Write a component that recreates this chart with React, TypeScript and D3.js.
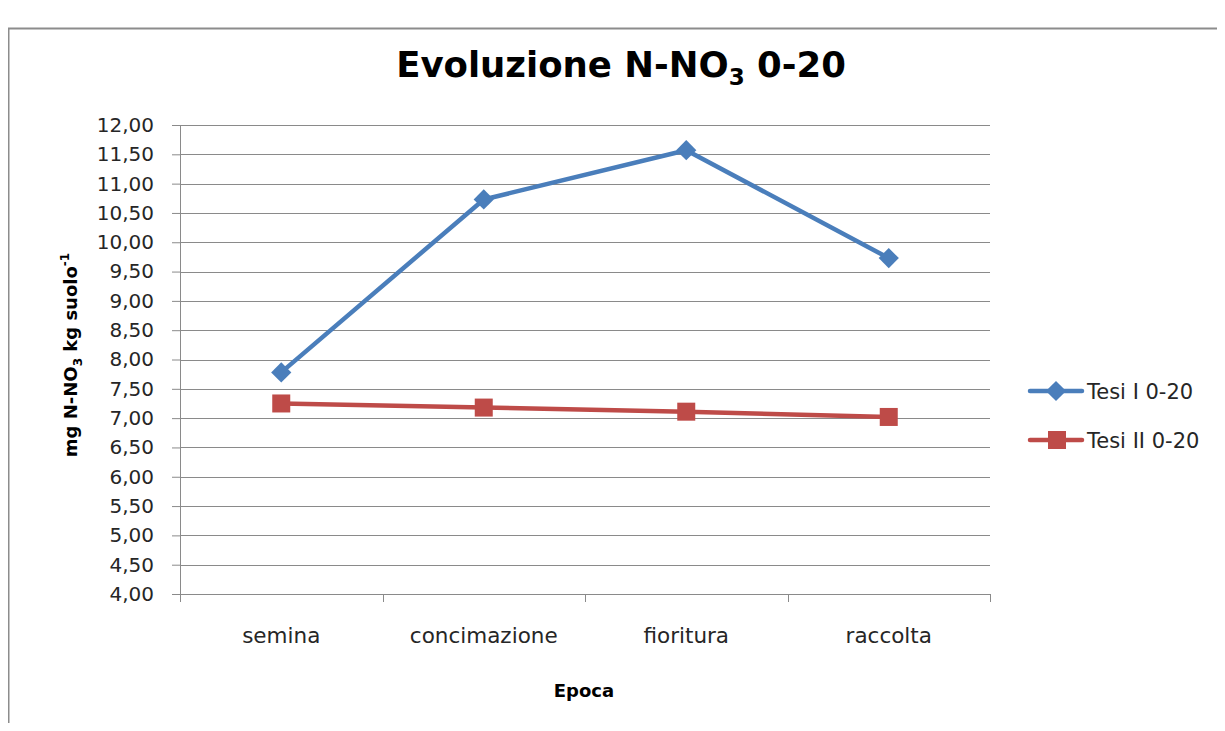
import React, { useEffect, useRef } from 'react';
import * as d3 from 'd3';

const categories = ['semina', 'concimazione', 'fioritura', 'raccolta'];
const tesiI = [7.78, 10.73, 11.57, 9.73];
const tesiII = [7.25, 7.18, 7.11, 7.02];
const yTicks = [4, 4.5, 5, 5.5, 6, 6.5, 7, 7.5, 8, 8.5, 9, 9.5, 10, 10.5, 11, 11.5, 12];
const seriesNames = ['Tesi I 0-20', 'Tesi II 0-20'];

const FONT = '"DejaVu Sans", sans-serif';

export default function App() {
  const ref = useRef<SVGSVGElement>(null);

  useEffect(() => {
    const svg = d3.select(ref.current);
    svg.selectAll('*').remove();

    const width = 1225;
    const height = 731;
    const margin = { top: 125, left: 180, right: 235, bottom: 137 };
    const w = width - margin.left - margin.right;
    const h = height - margin.top - margin.bottom;

    // chart frame (cropped at right and bottom)
    svg.append('rect')
      .attr('x', 8.5).attr('y', 28.5)
      .attr('width', 1240).attr('height', 740)
      .attr('fill', 'white').attr('stroke', '#8c8c8c').attr('stroke-width', 2);

    const x = d3.scaleBand().domain(categories).range([0, w]);
    const y = d3.scaleLinear().domain([4, 12]).range([h, 0]);

    const g = svg.append('g').attr('transform', `translate(${margin.left},${margin.top})`);

    const locale = d3.formatLocale({ decimal: ',', thousands: '.', grouping: [3], currency: ['', ''] });
    const fmt = locale.format('.2f');

    // gridlines
    g.append('g').selectAll('line').data(yTicks).enter().append('line')
      .attr('x1', 0).attr('x2', w)
      .attr('y1', d => Math.round(y(d)) + 0.5).attr('y2', d => Math.round(y(d)) + 0.5)
      .attr('stroke', '#8a8a8a').attr('stroke-width', 1);

    // y axis
    const yAxis = d3.axisLeft(y).tickValues(yTicks).tickSize(8).tickPadding(18).tickFormat(d => fmt(d as number));
    const ya = g.append('g').call(yAxis);
    ya.selectAll('path,line').attr('stroke', '#8a8a8a');
    ya.select('.domain').attr('d', `M0.5,0V${h}`);
    ya.selectAll('text').attr('font-family', FONT).attr('font-size', 20).attr('fill', '#262626');

    // x axis with ticks at band boundaries
    const xa = g.append('g').attr('transform', `translate(0,${h})`);
    xa.append('line').attr('x1', 0).attr('x2', w).attr('y1', 0.5).attr('y2', 0.5).attr('stroke', '#8a8a8a');
    const bounds = categories.map(c => x(c) as number).concat([w]);
    xa.selectAll('.tk').data(bounds).enter().append('line')
      .attr('x1', d => Math.round(d) + 0.5).attr('x2', d => Math.round(d) + 0.5)
      .attr('y1', 0).attr('y2', 8).attr('stroke', '#8a8a8a');
    xa.selectAll('.lbl').data(categories).enter().append('text')
      .attr('x', d => (x(d) as number) + x.bandwidth() / 2).attr('y', 49)
      .attr('text-anchor', 'middle').attr('font-family', FONT).attr('font-size', 21.5).attr('fill', '#262626')
      .text(d => d);

    const cx = (i: number) => (x(categories[i]) as number) + x.bandwidth() / 2;
    const line = d3.line<number>().x((_, i) => cx(i)).y(d => y(d));

    g.append('path').datum(tesiII).attr('d', line).attr('fill', 'none')
      .attr('stroke', '#BE4B48').attr('stroke-width', 4.5).attr('stroke-linejoin', 'round');
    g.selectAll('.sq').data(tesiII).enter().append('rect')
      .attr('x', (_, i) => cx(i) - 9).attr('y', d => y(d) - 9)
      .attr('width', 18).attr('height', 18).attr('fill', '#BE4B48');

    g.append('path').datum(tesiI).attr('d', line).attr('fill', 'none')
      .attr('stroke', '#4A7EBB').attr('stroke-width', 4.5).attr('stroke-linejoin', 'round');
    const diamond = d3.symbol().type(d3.symbolDiamond2).size(260);
    g.selectAll('.dm').data(tesiI).enter().append('path')
      .attr('d', diamond as any)
      .attr('transform', (d, i) => `translate(${cx(i)},${y(d)})`)
      .attr('fill', '#4A7EBB');

    // title
    const title = svg.append('text').attr('x', 621).attr('y', 77).attr('text-anchor', 'middle')
      .attr('font-family', FONT).attr('font-weight', 'bold').attr('font-size', 35.5).attr('fill', '#000');
    title.append('tspan').text('Evoluzione N-NO');
    title.append('tspan').attr('font-size', 23).attr('dy', 8).text('3');
    title.append('tspan').attr('dy', -8).text(' 0-20');

    // y axis title
    const yt = svg.append('text').attr('transform', 'translate(77,355) rotate(-90)')
      .attr('text-anchor', 'middle').attr('font-family', FONT).attr('font-weight', 'bold')
      .attr('font-size', 18).attr('fill', '#000');
    yt.append('tspan').text('mg N-NO');
    yt.append('tspan').attr('font-size', 12).attr('dy', 5).text('3');
    yt.append('tspan').attr('dy', -5).text(' kg suolo');
    yt.append('tspan').attr('font-size', 12).attr('dy', -8).text('-1');

    // x axis title
    svg.append('text').attr('x', 584).attr('y', 697).attr('text-anchor', 'middle')
      .attr('font-family', FONT).attr('font-weight', 'bold').attr('font-size', 18).attr('fill', '#000')
      .text('Epoca');

    // legend
    const colors = ['#4A7EBB', '#BE4B48'];
    const lg = svg.append('g');
    seriesNames.forEach((name, i) => {
      const ly = 391 + i * 49;
      lg.append('line').attr('x1', 1030).attr('x2', 1082).attr('y1', ly).attr('y2', ly)
        .attr('stroke', colors[i]).attr('stroke-width', 4.5).attr('stroke-linecap', 'round');
      if (i === 0) {
        lg.append('path').attr('d', diamond as any).attr('transform', `translate(1056,${ly})`).attr('fill', colors[i]);
      } else {
        lg.append('rect').attr('x', 1048).attr('y', ly - 9).attr('width', 18).attr('height', 18).attr('fill', colors[i]);
      }
      lg.append('text').attr('x', 1087).attr('y', ly + 8).attr('font-family', FONT).attr('font-size', 21)
        .attr('fill', '#262626').text(name);
    });
  }, []);

  return <svg ref={ref} width={1225} height={731} style={{ display: 'block', margin: '-8px' }} />;
}
